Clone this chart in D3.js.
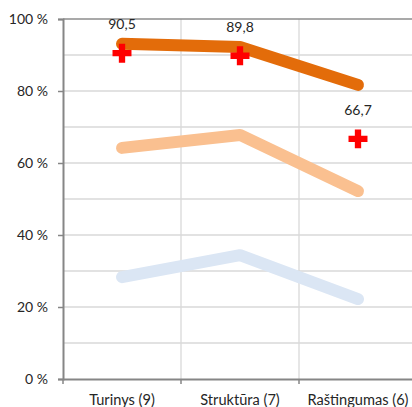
<!DOCTYPE html>
<html><head><meta charset="utf-8">
<script src="https://cdn.jsdelivr.net/npm/d3@7"></script>
<style>html,body{margin:0;padding:0;background:#fff;}svg{display:block;}</style>
</head><body><svg id="c" width="412" height="407"></svg>
<script>
const categories = ["Turinys (9)", "Struktūra (7)", "Raštingumas (6)"];
const highSeries = [93.1, 92.2, 81.7];
const midSeries = [64.2, 67.8, 52.2];
const lowSeries = [28.3, 34.4, 22.2];
const markerValues = [90.5, 89.8, 66.7];
const markerLabels = ["90,5", "89,8", "66,7"];
const yTicks = [0, 20, 40, 60, 80, 100];
const yMinor = [10, 30, 50, 70, 90];

(function () {
const svg = d3.select("#c");
const pLeft = 63, pRight = 417, pTop = 19, pBottom = 379;
const x = d3.scaleBand().domain(categories).range([pLeft, pRight]);
const y = d3.scaleLinear().domain([0, 100]).range([pBottom, pTop]);
const cx = c => x(c) + x.bandwidth() / 2;
const font = "Lato, 'Open Sans', sans-serif";

// gridlines
svg.append("g").selectAll("line").data(yTicks.concat(yMinor).filter(v => v > 0 && v < 100))
  .join("line").attr("x1", pLeft).attr("x2", 412).attr("y1", d => y(d)).attr("y2", d => y(d))
  .attr("stroke", "#d9d9d9").attr("stroke-width", 1.3);
svg.append("g").selectAll("line").data(categories.slice(1))
  .join("line").attr("x1", d => x(d)).attr("x2", d => x(d)).attr("y1", pTop).attr("y2", pBottom)
  .attr("stroke", "#d9d9d9").attr("stroke-width", 1.3);
// top border
svg.append("line").attr("x1", pLeft).attr("x2", 412).attr("y1", y(100)).attr("y2", y(100))
  .attr("stroke", "#8c8c8c").attr("stroke-width", 1.5);

// y axis
const yAxis = d3.axisLeft(y).tickValues(yTicks).tickSize(5).tickFormat(d => d + " %");
const ya = svg.append("g").attr("transform", `translate(${pLeft},0)`).call(yAxis);
ya.select(".domain").attr("stroke", "#868686").attr("stroke-width", 2);
ya.selectAll(".tick line").attr("stroke", "#868686").attr("stroke-width", 1.5);
ya.selectAll(".tick text").attr("x", -15).attr("fill", "#262626")
  .style("font-family", font).style("font-size", "14px");

// x axis
const xa = svg.append("g").attr("transform", `translate(0,${pBottom})`)
  .call(d3.axisBottom(x).tickSize(0).tickSizeOuter(0));
xa.select(".domain").attr("stroke", "#868686").attr("stroke-width", 2);
xa.selectAll(".tick text").attr("y", 26).attr("dy", "0").attr("fill", "#262626")
  .style("font-family", font).style("font-size", "14.6px");
svg.append("g").selectAll("line").data(categories)
  .join("line").attr("x1", d => x(d)).attr("x2", d => x(d)).attr("y1", pBottom).attr("y2", pBottom + 5)
  .attr("stroke", "#868686").attr("stroke-width", 1.5);

// series lines
const line = d3.line().x((d, i) => cx(categories[i])).y(d => y(d));
const series = [
  {v: lowSeries, c: "#dbe6f4"},
  {v: midSeries, c: "#fac090"},
  {v: highSeries, c: "#e36c0a"}
];
svg.append("g").selectAll("path").data(series).join("path")
  .attr("d", d => line(d.v)).attr("fill", "none").attr("stroke", d => d.c)
  .attr("stroke-width", 12).attr("stroke-linecap", "round").attr("stroke-linejoin", "round");

// markers (crosses)
const cross = d3.symbol().type(d3.symbolCross).size(200);
svg.append("g").selectAll("path").data(markerValues).join("path")
  .attr("transform", (d, i) => `translate(${cx(categories[i])},${y(d)})`)
  .attr("d", cross).attr("fill", "#ff0000");

svg.append("g").selectAll("text").data(markerValues).join("text")
  .attr("x", (d, i) => cx(categories[i])).attr("y", d => y(d) - 24)
  .attr("text-anchor", "middle").attr("fill", "#262626")
  .style("font-family", font).style("font-size", "14px")
  .text((d, i) => markerLabels[i]);
})();
</script></body></html>
